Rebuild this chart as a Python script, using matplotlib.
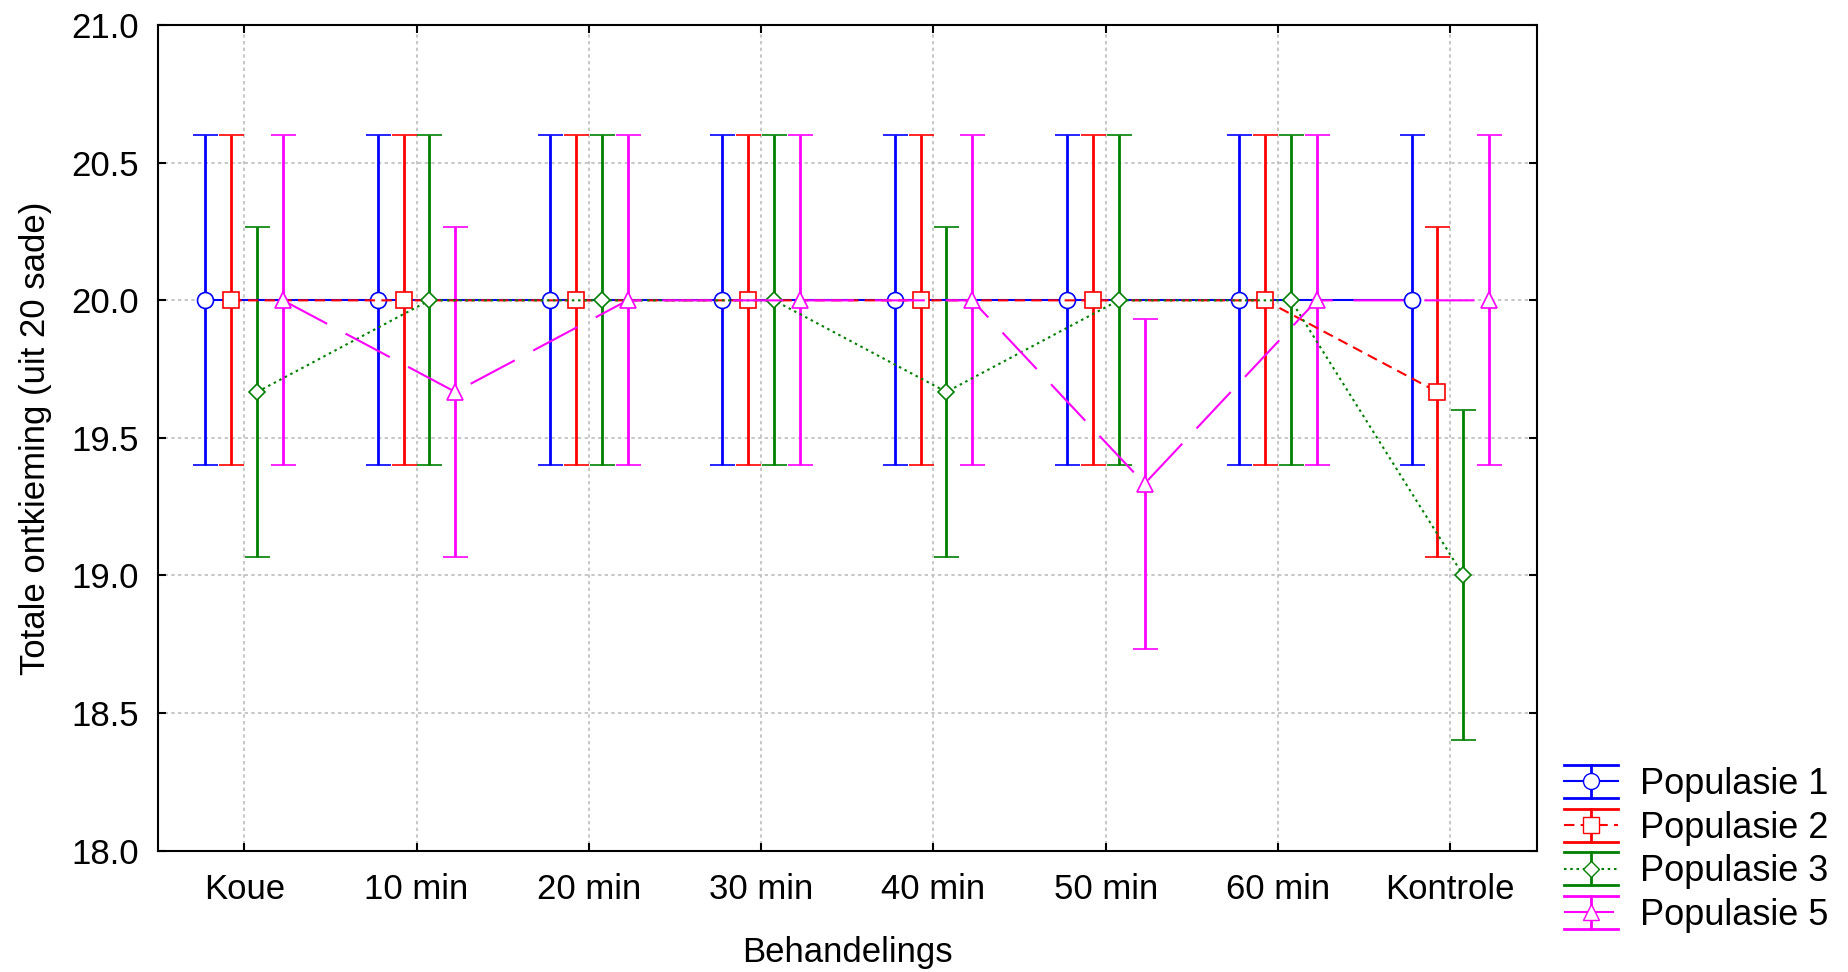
import matplotlib

matplotlib.use("Agg")
import matplotlib.pyplot as plt
import numpy as np
from matplotlib.legend_handler import HandlerBase
from matplotlib.lines import Line2D

plt.rcParams["font.family"] = ["Liberation Sans", "DejaVu Sans"]

categories = ["Koue", "10 min", "20 min", "30 min", "40 min", "50 min", "60 min", "Kontrole"]
labels = ["Populasie 1", "Populasie 2", "Populasie 3", "Populasie 5"]

pop1 = [20.0, 20.0, 20.0, 20.0, 20.0, 20.0, 20.0, 20.0]
pop2 = [20.0, 20.0, 20.0, 20.0, 20.0, 20.0, 20.0, 19.667]
pop3 = [19.667, 20.0, 20.0, 20.0, 19.667, 20.0, 20.0, 19.0]
pop5 = [20.0, 19.667, 20.0, 20.0, 20.0, 19.333, 20.0, 20.0]
err = [0.6, 0.6, 0.6, 0.6, 0.6, 0.6, 0.6, 0.6]

series = [pop1, pop2, pop3, pop5]
colors = ["#0000ff", "#ff0000", "#008000", "#ff00ff"]
markers = ["o", "s", "D", "^"]
msizes = [11.5, 11.5, 8.5, 11.5]
styles = ["-", (0, (5, 3)), (0, (1.2, 1.8)), (0, (24, 10))]
offsets = [-0.225, -0.075, 0.075, 0.225]


class ErrHandler(HandlerBase):
    # legend entry drawn like the error bar: caps across the full width
    def create_artists(self, legend, orig, xdescent, ydescent, width, height, fontsize, trans):
        x0, x1 = -xdescent, -xdescent + width
        y0, y1 = -ydescent - 0.15 * height, -ydescent + 1.15 * height
        xm, ym = (x0 + x1) / 2, (y0 + y1) / 2
        c = orig.get_color()
        arts = [
            Line2D([x0, x1], [y1, y1], color=c, lw=2),
            Line2D([x0, x1], [y0, y0], color=c, lw=2),
            Line2D([xm, xm], [y0, y1], color=c, lw=2),
            Line2D([x0, x1], [ym, ym], color=c, lw=1.5, linestyle=orig.get_linestyle()),
            Line2D([xm], [ym], marker=orig.get_marker(), markersize=orig.get_markersize(),
                   markerfacecolor="white", markeredgecolor=c, linestyle="none"),
        ]
        if orig._unscaled_dash_pattern[1]:
            arts[3].set_dashes(orig._unscaled_dash_pattern[1])
        for a in arts:
            a.set_transform(trans)
        return arts


fig = plt.figure(figsize=(18.49, 9.72), dpi=100)
ax = fig.add_axes([0.0855, 0.125, 0.7455, 0.849])

x = np.arange(len(categories))
handles = []
for vals, c, m, ms, ls, off in zip(series, colors, markers, msizes, styles, offsets):
    ax.errorbar(x + off, vals, yerr=err, color=c, ecolor=c, elinewidth=2, capsize=9,
                capthick=2, linestyle=ls, linewidth=1.5, marker=m, markersize=ms,
                markerfacecolor="white", markeredgecolor=c, markeredgewidth=1.2)
    handles.append(Line2D([], [], color=c, linestyle=ls, marker=m, markersize=ms))

ax.set_xlim(-0.5, 7.5)
ax.set_ylim(18.0, 21.0)
ax.set_xticks(x)
ax.set_xticklabels(categories)
ax.set_yticks(np.arange(18.0, 21.01, 0.5))
ax.yaxis.set_major_formatter(matplotlib.ticker.FormatStrFormatter("%.1f"))
ax.grid(True, color="#bdbdbd", linestyle=(0, (2, 2)), linewidth=1.2)
ax.set_axisbelow(True)
ax.tick_params(direction="in", length=6, width=1.5, top=True, right=True,
               labelsize=25, colors="black")
ax.tick_params(axis="y", pad=14)
ax.tick_params(axis="x", pad=16)
for s in ax.spines.values():
    s.set_linewidth(1.5)

ax.set_xlabel("Behandelings", fontsize=25, labelpad=22)
ax.set_ylabel("Totale ontkieming (uit 20 sade)", fontsize=25, labelpad=14)

fig.legend(handles, labels, loc="lower left", bbox_to_anchor=(0.846, 0.04),
           frameon=False, fontsize=26, handlelength=1.5, handleheight=0.7,
           handletextpad=0.6, labelspacing=0.24, borderpad=0, borderaxespad=0,
           handler_map={Line2D: ErrHandler()})

fig.savefig("out.png", dpi=100)
